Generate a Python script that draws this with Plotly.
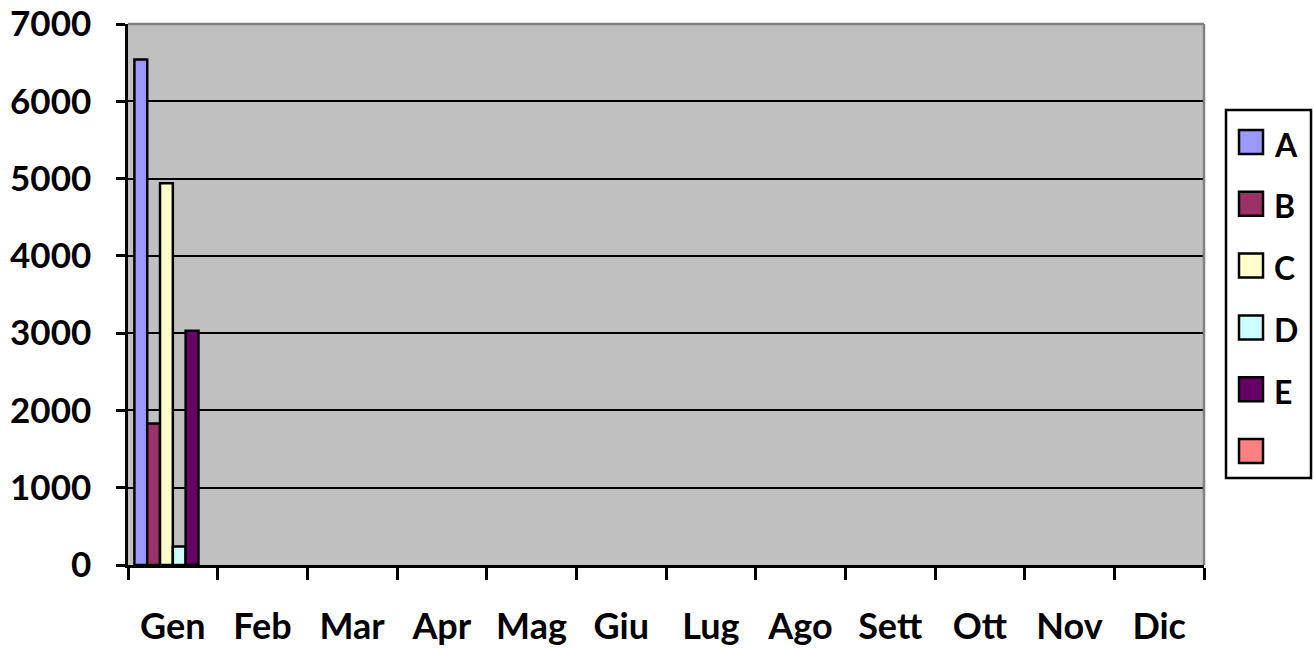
import plotly.graph_objects as go

months = ["Gen", "Feb", "Mar", "Apr", "Mag", "Giu", "Lug", "Ago", "Sett", "Ott", "Nov", "Dic"]
series_names = ["A", "B", "C", "D", "E", ""]
A = [6540, None, None, None, None, None, None, None, None, None, None, None]
B = [1830, None, None, None, None, None, None, None, None, None, None, None]
C = [4940, None, None, None, None, None, None, None, None, None, None, None]
D = [240, None, None, None, None, None, None, None, None, None, None, None]
E = [3030, None, None, None, None, None, None, None, None, None, None, None]
F = [None, None, None, None, None, None, None, None, None, None, None, None]
colors = ["#9999FF", "#993366", "#FFFFCC", "#CCFFFF", "#660066", "#FF8080"]
y_ticks = [0, 1000, 2000, 3000, 4000, 5000, 6000, 7000]

W, H = 1314, 648
ML, MT, MR, MB = 128, 24, 110, 83
PW, PH = W - ML - MR, H - MT - MB


def px_x(x):  # window pixel -> paper x
    return (x - ML) / PW


def px_y(y):  # window pixel -> paper y
    return (H - MB - y) / PH


fig = go.Figure()
for name, vals, col in zip(series_names, [A, B, C, D, E, F], colors):
    fig.add_trace(go.Bar(
        x=months, y=vals, name=name, showlegend=False,
        marker=dict(color=col, line=dict(color="black", width=2.5)),
    ))

# plot-area border (top and right, grey)
shapes = [
    dict(type="line", xref="paper", yref="paper", x0=0, x1=1, y0=1, y1=1,
         line=dict(color="#808080", width=2.5), layer="above"),
    dict(type="line", xref="paper", yref="paper", x0=1, x1=1, y0=0, y1=1,
         line=dict(color="#808080", width=2.5), layer="above"),
]
# legend box drawn as shapes + text
shapes.append(dict(type="rect", xref="paper", yref="paper",
                   x0=px_x(1226), x1=px_x(1311), y0=px_y(478), y1=px_y(110),
                   line=dict(color="black", width=2.5), fillcolor="white", layer="above"))
annotations = []
for i, (name, col) in enumerate(zip(series_names, colors)):
    cy = 142.0 + 61.8 * i
    shapes.append(dict(type="rect", xref="paper", yref="paper",
                       x0=px_x(1239), x1=px_x(1263), y0=px_y(cy + 12), y1=px_y(cy - 12),
                       line=dict(color="black", width=2.5), fillcolor=col, layer="above"))
    if name:
        annotations.append(dict(xref="paper", yref="paper", x=px_x(1272), y=px_y(cy + 2),
                                xanchor="left", yanchor="middle", showarrow=False, text=name,
                                font=dict(family="Lato", size=32, color="black", weight="bold")))

fig.update_layout(
    width=W, height=H,
    margin=dict(l=ML, r=MR, t=MT, b=MB, autoexpand=False),
    paper_bgcolor="white", plot_bgcolor="#C0C0C0",
    barmode="group", bargap=1/7, bargroupgap=0,
    showlegend=False,
    font=dict(family="Lato", size=34, color="black", weight="bold"),
    shapes=shapes, annotations=annotations,
    xaxis=dict(
        type="category", categoryorder="array", categoryarray=months,
        showline=True, linecolor="black", linewidth=2.5,
        ticks="outside", tickson="boundaries", ticklen=12, tickwidth=2.5, tickcolor="black",
        ticklabelstandoff=28, showgrid=False, automargin=False, ticklabeloverflow="allow",
        tickfont=dict(family="Lato", size=36, color="black", weight="bold"),
    ),
    yaxis=dict(
        range=[0, 7000], tickvals=y_ticks, ticktext=[str(v) for v in y_ticks],
        showline=True, linecolor="black", linewidth=2.5,
        ticks="outside", ticklen=9, tickwidth=2.5, tickcolor="black",
        showgrid=True, gridcolor="black", gridwidth=2, zeroline=False,
        ticklabelstandoff=18, automargin=False, ticklabeloverflow="allow",
        tickfont=dict(family="Lato", size=35, color="black", weight="bold"),
    ),
)

fig.write_html(
    "out.html",
    config={"displayModeBar": False},
    post_script="document.body.style.margin='0';document.body.style.overflow='hidden';",
)
